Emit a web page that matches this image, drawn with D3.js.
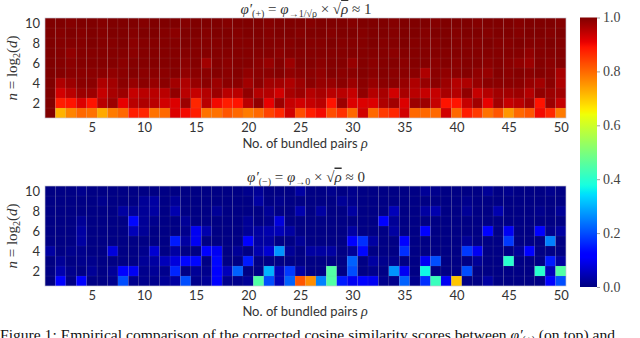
<!DOCTYPE html>
<html><head><meta charset="utf-8">
<script src="https://cdn.jsdelivr.net/npm/d3@7"></script>
<style>body{margin:0;background:#fff}svg{display:block}</style>
</head><body>
<svg id="c" width="640" height="338"></svg>
<script>
// ---- data ----
const rhos = [1,2,3,4,5,6,7,8,9,10,11,12,13,14,15,16,17,18,19,20,21,22,23,24,25,26,27,28,29,30,31,32,33,34,35,36,37,38,39,40,41,42,43,44,45,46,47,48,49,50];
const ns = [1,2,3,4,5,6,7,8,9,10];
const xTicks = [5,10,15,20,25,30,35,40,45,50];
const yTicks = [2,4,6,8,10];
const cbTicks = [0,0.2,0.4,0.6,0.8,1.0];

// top heatmap: phi'(+) rows n=1..10, columns rho=1..50
const plus1 = [1.00,0.72,0.77,0.80,0.79,0.73,0.78,0.80,0.88,0.87,0.79,0.80,0.92,0.90,0.88,0.79,0.79,0.82,0.80,0.78,0.80,0.84,0.87,0.93,0.83,0.88,0.90,0.83,0.86,0.80,0.93,0.80,0.85,0.87,0.93,0.80,0.80,0.80,0.93,0.80,0.88,0.85,0.79,0.82,0.75,0.80,0.82,0.90,0.87,0.78];
const plus2 = [1.00,0.88,0.89,0.92,0.89,0.95,0.975,0.91,0.95,0.96,0.95,0.93,0.92,0.975,0.87,0.95,0.90,0.88,0.89,0.95,0.985,0.91,0.975,0.94,0.93,0.94,0.95,0.89,0.975,0.92,0.92,0.92,0.96,0.97,0.92,0.975,0.975,0.94,0.89,0.89,0.94,0.97,0.91,0.97,0.94,0.95,0.97,0.89,0.975,0.94];
const plus3 = [1.00,0.93,0.95,0.975,0.975,0.94,0.965,0.975,0.94,0.95,0.95,0.95,0.985,0.95,0.94,0.955,0.975,0.95,0.95,0.985,0.955,0.955,0.93,0.965,0.975,0.955,0.965,0.95,0.95,0.94,0.985,0.955,0.965,0.93,0.965,0.95,0.94,0.94,0.965,0.955,0.985,0.94,0.955,0.97,0.97,0.975,0.955,0.985,0.975,0.97];
const plus4 = [1.00,0.96,0.975,0.99,0.99,0.96,0.97,0.99,0.98,0.99,0.98,0.99,0.97,0.96,0.98,0.99,0.975,0.99,0.99,0.97,0.99,0.97,0.97,0.96,0.975,0.99,0.98,0.98,0.99,0.975,0.99,0.98,0.99,0.99,0.98,0.96,0.98,0.99,0.975,0.955,0.96,0.98,0.99,0.99,0.99,0.99,0.98,0.97,0.99,0.96];
const plus5 = [1.00,0.995,0.99,0.99,0.99,0.99,0.985,0.99,0.995,0.99,0.99,0.99,0.995,0.985,0.99,0.99,0.995,0.99,0.995,0.985,0.99,0.99,0.995,0.985,0.99,0.99,0.985,0.995,0.99,0.99,0.995,0.99,0.995,0.99,0.99,0.99,0.96,0.99,0.985,0.99,0.995,0.985,0.98,0.995,0.99,0.995,0.99,0.995,0.99,0.965];
const plus6 = [1.00,0.995,0.99,0.995,0.995,0.995,0.995,0.99,0.995,0.995,0.995,0.995,0.995,0.99,0.995,0.97,0.995,0.99,0.995,0.995,0.99,0.98,0.995,0.975,0.995,0.995,0.99,0.995,0.995,0.98,0.995,0.99,0.995,0.995,0.99,0.995,0.995,0.99,0.995,0.99,0.995,0.995,0.99,0.995,0.99,0.985,0.975,0.995,0.99,0.995];
const plus7 = [1.00,0.995,0.985,0.995,0.995,0.995,0.995,0.995,0.99,0.995,0.995,0.995,0.995,0.995,0.995,0.995,0.995,0.995,0.995,0.995,0.995,0.995,0.99,0.995,0.995,0.995,0.995,0.995,0.995,0.995,0.995,0.995,0.995,0.99,0.995,0.995,0.995,0.995,0.995,0.995,0.995,0.995,0.995,0.995,0.995,0.995,0.985,0.995,0.995,0.995];
const plus8 = [1.00,0.995,0.995,0.995,1.00,0.995,0.995,1.00,0.99,0.995,0.995,0.995,0.995,1.00,0.995,0.995,0.995,1.00,0.995,0.995,1.00,0.995,0.995,0.995,1.00,0.995,0.995,1.00,0.995,0.995,0.995,1.00,0.995,0.995,1.00,0.995,0.995,0.995,1.00,0.995,0.995,0.995,1.00,0.995,0.995,1.00,0.995,0.995,1.00,0.995];
const plus9 = [1.00,0.995,1.00,0.995,1.00,0.995,1.00,1.00,0.995,1.00,1.00,0.995,0.99,1.00,1.00,0.995,1.00,1.00,0.995,1.00,1.00,0.995,1.00,1.00,0.995,1.00,1.00,0.995,1.00,1.00,0.995,1.00,1.00,0.995,1.00,1.00,0.995,1.00,1.00,0.995,1.00,1.00,0.995,1.00,1.00,0.995,1.00,1.00,0.995,1.00];
const plus10 = [1.00,1.00,0.995,1.00,1.00,0.995,1.00,1.00,1.00,0.995,1.00,1.00,1.00,0.995,1.00,1.00,1.00,0.995,1.00,1.00,1.00,0.995,1.00,1.00,1.00,0.995,1.00,1.00,1.00,0.995,1.00,1.00,1.00,0.995,1.00,1.00,1.00,0.995,1.00,1.00,1.00,0.995,1.00,1.00,1.00,0.995,1.00,1.00,1.00,0.995];

// bottom heatmap: phi'(-) rows n=1..10
const minus1 = [0.00,0.12,0.005,0.11,0.005,0.005,0.012,0.20,0.012,0.012,0.012,0.02,0.03,0.20,0.012,0.02,0.12,0.012,0.012,0.02,0.45,0.20,0.05,0.22,0.82,0.76,0.25,0.45,0.15,0.10,0.12,0.10,0.012,0.012,0.22,0.012,0.17,0.42,0.10,0.70,0.005,0.005,0.03,0.005,0.005,0.005,0.005,0.005,0.12,0.20];
const minus2 = [0.005,0.04,0.012,0.005,0.02,0.005,0.02,0.12,0.10,0.012,0.02,0.012,0.16,0.005,0.02,0.012,0.12,0.05,0.22,0.005,0.005,0.30,0.05,0.18,0.03,0.005,0.005,0.45,0.005,0.20,0.005,0.012,0.005,0.27,0.10,0.005,0.37,0.005,0.005,0.005,0.20,0.005,0.005,0.005,0.005,0.005,0.005,0.40,0.05,0.45];
const minus3 = [0.003,0.02,0.005,0.012,0.012,0.005,0.005,0.005,0.005,0.02,0.03,0.05,0.08,0.13,0.13,0.005,0.13,0.005,0.005,0.15,0.005,0.005,0.005,0.005,0.005,0.005,0.005,0.005,0.005,0.22,0.005,0.03,0.012,0.012,0.005,0.005,0.10,0.20,0.005,0.005,0.005,0.02,0.005,0.005,0.40,0.005,0.005,0.005,0.15,0.03];
const minus4 = [0.03,0.005,0.012,0.012,0.005,0.005,0.08,0.005,0.005,0.012,0.07,0.005,0.03,0.005,0.005,0.12,0.10,0.005,0.02,0.005,0.04,0.07,0.27,0.02,0.005,0.03,0.03,0.03,0.005,0.02,0.13,0.005,0.005,0.005,0.17,0.005,0.005,0.005,0.005,0.005,0.18,0.10,0.005,0.005,0.005,0.02,0.11,0.005,0.005,0.005];
const minus5 = [0.005,0.005,0.005,0.03,0.005,0.005,0.005,0.005,0.005,0.005,0.005,0.005,0.15,0.03,0.10,0.005,0.005,0.005,0.005,0.11,0.03,0.03,0.005,0.005,0.02,0.005,0.005,0.005,0.005,0.12,0.17,0.03,0.005,0.005,0.12,0.005,0.005,0.005,0.005,0.005,0.02,0.005,0.005,0.005,0.18,0.005,0.005,0.005,0.25,0.005];
const minus6 = [0.005,0.005,0.005,0.03,0.005,0.005,0.005,0.005,0.05,0.02,0.005,0.005,0.005,0.012,0.10,0.04,0.005,0.005,0.005,0.02,0.03,0.04,0.05,0.03,0.005,0.005,0.005,0.005,0.005,0.03,0.005,0.005,0.005,0.03,0.005,0.005,0.12,0.005,0.005,0.005,0.005,0.005,0.12,0.005,0.10,0.005,0.005,0.11,0.012,0.03];
const minus7 = [0.005,0.005,0.005,0.02,0.005,0.005,0.005,0.005,0.13,0.02,0.012,0.005,0.005,0.02,0.005,0.005,0.005,0.005,0.005,0.02,0.005,0.012,0.08,0.005,0.005,0.005,0.005,0.005,0.005,0.005,0.005,0.005,0.11,0.02,0.005,0.005,0.005,0.005,0.005,0.005,0.005,0.005,0.005,0.005,0.005,0.005,0.005,0.005,0.005,0.005];
const minus8 = [0.005,0.005,0.005,0.005,0.005,0.005,0.005,0.03,0.02,0.02,0.03,0.005,0.04,0.005,0.005,0.005,0.02,0.005,0.005,0.005,0.005,0.02,0.005,0.005,0.04,0.005,0.03,0.005,0.005,0.03,0.005,0.005,0.005,0.05,0.005,0.005,0.03,0.04,0.005,0.005,0.02,0.005,0.005,0.04,0.005,0.005,0.005,0.012,0.005,0.02];
const minus9 = [0.005,0.005,0.005,0.005,0.005,0.012,0.005,0.005,0.005,0.02,0.03,0.005,0.02,0.005,0.005,0.005,0.005,0.005,0.005,0.005,0.03,0.005,0.012,0.005,0.005,0.005,0.005,0.005,0.02,0.012,0.005,0.005,0.005,0.005,0.005,0.005,0.005,0.005,0.005,0.005,0.012,0.005,0.005,0.005,0.005,0.005,0.005,0.005,0.005,0.005];
const minus10 = [0.003,0.005,0.005,0.012,0.005,0.005,0.005,0.005,0.005,0.005,0.005,0.005,0.005,0.005,0.005,0.005,0.005,0.005,0.005,0.012,0.02,0.005,0.005,0.005,0.03,0.005,0.005,0.012,0.005,0.012,0.005,0.005,0.005,0.005,0.005,0.005,0.02,0.012,0.005,0.005,0.005,0.005,0.02,0.005,0.012,0.005,0.005,0.005,0.012,0.005];

const plusRows = [plus1,plus2,plus3,plus4,plus5,plus6,plus7,plus8,plus9,plus10];
const minusRows = [minus1,minus2,minus3,minus4,minus5,minus6,minus7,minus8,minus9,minus10];

// ---- jet colormap ----
function seg(pts, v){
  for(let i=1;i<pts.length;i++){
    if(v<=pts[i][0]){const [x0,y0]=pts[i-1],[x1,y1]=pts[i];return y0+(y1-y0)*(v-x0)/(x1-x0);}
  }
  return pts[pts.length-1][1];
}
function jet(v){
  v=Math.max(0,Math.min(1,v));
  const r=seg([[0,0],[0.35,0],[0.66,1],[0.89,1],[1,0.5]],v);
  const g=seg([[0,0],[0.125,0],[0.375,1],[0.64,1],[0.91,0],[1,0]],v);
  const b=seg([[0,0.5],[0.11,1],[0.34,1],[0.65,0],[1,0]],v);
  return d3.rgb(Math.round(r*255),Math.round(g*255),Math.round(b*255)).formatHex();
}
const color = d3.scaleSequential(jet).domain([0,1]);

const svg = d3.select("#c");
const X0=45, X1=566;
const sansFont = "Lato, 'DejaVu Sans', sans-serif";
const serifFont = "'Liberation Serif', 'DejaVu Serif', serif";
const txtCol = "#333";

function heatmap(rows, top, titleParts, sub){
  const bottom = top+100;
  const x = d3.scaleBand().domain(rhos).range([X0,X1]);
  const y = d3.scaleBand().domain(ns.slice().reverse()).range([top,bottom]);
  const cells = [];
  rows.forEach((row,i)=>row.forEach((v,j)=>cells.push({n:ns[i], r:rhos[j], v})));
  const g = svg.append("g");
  g.selectAll("rect.cell").data(cells).join("rect")
    .attr("class","cell")
    .attr("x",d=>x(d.r)).attr("y",d=>y(d.n))
    .attr("width",x.bandwidth()).attr("height",y.bandwidth())
    .attr("fill",d=>color(d.v))
    .attr("stroke","rgba(150,150,150,0.14)").attr("stroke-width",0.6);
  g.append("rect").attr("x",X0).attr("y",top).attr("width",X1-X0).attr("height",100)
    .attr("fill","none").attr("stroke","#c8c8d8").attr("stroke-width",0.6);

  const xl = d3.scaleLinear().domain([0.5,50.5]).range([X0,X1]);
  const yl = d3.scaleLinear().domain([0.5,10.5]).range([bottom,top]);
  const ax = g.append("g").attr("transform",`translate(0,${bottom})`)
    .call(d3.axisBottom(xl).tickValues(xTicks).tickSize(0).tickPadding(5));
  ax.select(".domain").remove();
  ax.selectAll("text").attr("font-family",sansFont).attr("font-size",13).attr("fill",txtCol);
  const ay = g.append("g").attr("transform",`translate(${X0},0)`)
    .call(d3.axisLeft(yl).tickValues(yTicks).tickSize(0).tickPadding(5));
  ay.select(".domain").remove();
  ay.selectAll("text").attr("font-family",sansFont).attr("font-size",13).attr("fill",txtCol);

  const xlab = g.append("text").attr("x",305).attr("y",bottom+30).attr("text-anchor","middle")
    .attr("font-family",sansFont).attr("font-size",13).attr("fill",txtCol);
  xlab.append("tspan").text("No. of bundled pairs ");
  xlab.append("tspan").attr("font-family",serifFont).attr("font-style","italic").attr("font-size",14).text("ρ");

  const yc = top+50;
  const ylab = g.append("text").attr("transform",`translate(17,${yc}) rotate(-90)`).attr("text-anchor","middle")
    .attr("font-family",serifFont).attr("font-size",15).attr("fill",txtCol);
  ylab.append("tspan").attr("font-style","italic").text("n");
  ylab.append("tspan").text(" = log");
  ylab.append("tspan").attr("font-size",10).attr("dy",3).text("2");
  ylab.append("tspan").attr("dy",-3).text("(");
  ylab.append("tspan").attr("font-style","italic").text("d");
  ylab.append("tspan").text(")");

  const t = g.append("text").attr("x",306).attr("y",top-4.5).attr("text-anchor","middle")
    .attr("font-family",serifFont).attr("font-size",15).attr("fill",txtCol);
  t.append("tspan").attr("font-style","italic").text("φ′");
  t.append("tspan").attr("dy",3.5).attr("font-size",10).text(titleParts[0]);
  t.append("tspan").attr("dy",-3.5).text(" = ");
  t.append("tspan").attr("font-style","italic").text("φ");
  t.append("tspan").attr("dy",3.5).attr("font-size",10).text(sub);
  t.append("tspan").attr("dy",-3.5).text(" × √");
  t.append("tspan").attr("font-style","italic").attr("text-decoration","overline").text("ρ");
  t.append("tspan").text(" ≈ "+titleParts[1]);
}

heatmap(plusRows, 18, ["(+)","1"], "→1/√ρ");
heatmap(minusRows, 186, ["(−)","0"], "→0");

// ---- colorbar ----
const cbTop=17.5, cbBot=287, cbX=580, cbW=17;
const cy = d3.scaleLinear().domain([0,1]).range([cbBot,cbTop]);
const defs = svg.append("defs");
const grad = defs.append("linearGradient").attr("id","jetgrad").attr("x1",0).attr("y1",1).attr("x2",0).attr("y2",0);
grad.selectAll("stop").data(d3.range(0,1.0001,0.01)).join("stop")
  .attr("offset",d=>d).attr("stop-color",d=>color(d));
svg.append("rect").attr("x",cbX).attr("y",cbTop).attr("width",cbW).attr("height",cbBot-cbTop).attr("fill","url(#jetgrad)");
const cax = svg.append("g").attr("transform",`translate(${cbX+cbW},0)`)
  .call(d3.axisRight(cy).tickValues(cbTicks).tickFormat(d3.format(".1f")).tickSize(3).tickPadding(3));
cax.select(".domain").remove();
cax.selectAll("line").attr("stroke","#888").attr("stroke-width",0.8);
cax.selectAll("text").attr("font-family",serifFont).attr("font-size",14).attr("fill","#444");

// ---- caption (partially visible) ----
const cap = svg.append("text").attr("x",0).attr("y",340).attr("font-family",serifFont).attr("font-size",15.6).attr("fill","#111");
cap.append("tspan").text("Figure 1: Empirical comparison of the corrected cosine similarity scores between ");
cap.append("tspan").attr("font-style","italic").text("φ′");
cap.append("tspan").attr("font-size",10).attr("dy",3).text("(+)");
cap.append("tspan").attr("dy",-3).text(" (on top) and");
</script>
</body></html>
